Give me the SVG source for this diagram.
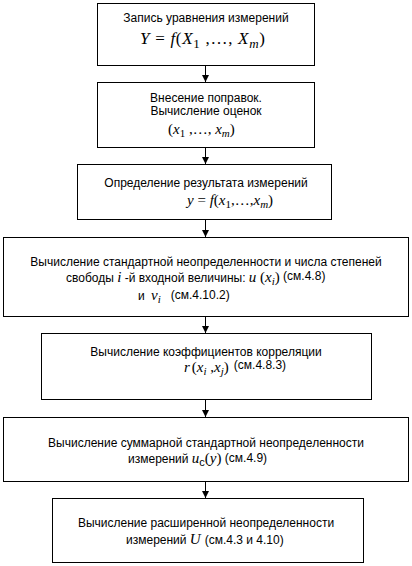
<svg xmlns="http://www.w3.org/2000/svg" width="412" height="566" viewBox="0 0 412 566">
<style>
.box{fill:#fff;stroke:#000;stroke-width:1}
.t{font-family:"Liberation Sans",Arial,sans-serif;font-size:12px;fill:#000;text-anchor:middle}
.l{font-family:"Liberation Sans",Arial,sans-serif;font-size:12px;fill:#000;text-anchor:start}
.m{font-family:"Liberation Serif","Times New Roman",serif;font-style:italic}
.mn{font-family:"Liberation Serif","Times New Roman",serif;font-style:normal}
.s{font-family:"Liberation Serif","Times New Roman",serif;font-style:normal;font-size:11px}
.si{font-family:"Liberation Serif","Times New Roman",serif;font-style:italic;font-size:11px}
.sa{font-family:"Liberation Sans",Arial,sans-serif;font-size:11px}
.r{font-family:"Liberation Sans",Arial,sans-serif;font-size:12px;font-style:normal}
.f17{font-size:17px}.f15{font-size:15px}.f14{font-size:14px}
.c{stroke:#000;stroke-width:1;fill:none;marker-end:url(#ah)}
</style>
<defs>
<marker id="ah" markerUnits="userSpaceOnUse" markerWidth="10" markerHeight="8" refX="7" refY="3.5" orient="auto">
<path d="M0,0 L7,3.5 L0,7 Z" fill="#000"/>
</marker>
</defs>
<rect width="412" height="566" fill="#fff"/>
<g id="connectors">
<line class="c" x1="205.5" y1="66" x2="205.5" y2="82"/>
<line class="c" x1="205.5" y1="148" x2="205.5" y2="164"/>
<line class="c" x1="205.5" y1="220" x2="205.5" y2="237"/>
<line class="c" x1="205.5" y1="317" x2="205.5" y2="333"/>
<line class="c" x1="205.5" y1="400" x2="205.5" y2="417"/>
<line class="c" x1="205.5" y1="482" x2="205.5" y2="498"/>
</g>
<g id="n1">
<rect class="box" x="97.5" y="3.5" width="217" height="62"/>
<text class="t" x="206" y="22">Запись уравнения измерений</text>
<text class="l f17" x="140" y="44" textLength="125" lengthAdjust="spacing"><tspan class="m">Y</tspan><tspan class="mn"> = </tspan><tspan class="m">f</tspan><tspan class="mn">(</tspan><tspan class="m">X</tspan><tspan class="s" dy="4" style="font-size:13px">1</tspan><tspan class="mn" dy="-4"> ,…, </tspan><tspan class="m">X</tspan><tspan class="si" dy="4" style="font-size:13px">m</tspan><tspan class="mn" dy="-4">)</tspan></text>
</g>
<g id="n2">
<rect class="box" x="97.5" y="82.5" width="217" height="65"/>
<text class="t" x="206" y="102">Внесение поправок.</text>
<text class="t" x="206" y="115">Вычисление оценок</text>
<text class="l f15" x="168" y="134"><tspan class="mn">(</tspan><tspan class="m">x</tspan><tspan class="s" dy="3">1</tspan><tspan class="mn" dy="-3"> ,…, </tspan><tspan class="m">x</tspan><tspan class="si" dy="3">m</tspan><tspan class="mn" dy="-3">)</tspan></text>
</g>
<g id="n3">
<rect class="box" x="77.5" y="164.5" width="254" height="55"/>
<text class="t" x="206" y="187">Определение результата измерений</text>
<text class="l f15" x="187" y="205"><tspan class="m">y</tspan><tspan class="mn"> = </tspan><tspan class="m">f</tspan><tspan class="mn">(</tspan><tspan class="m">x</tspan><tspan class="s" dy="3">1</tspan><tspan class="mn" dy="-3">,…,</tspan><tspan class="m">x</tspan><tspan class="si" dy="3">m</tspan><tspan class="mn" dy="-3">)</tspan></text>
</g>
<g id="n4">
<rect class="box" x="3.5" y="237.5" width="405" height="79"/>
<text class="t" x="206" y="266">Вычисление стандартной неопределенности и числа степеней</text>
<text class="l" x="66" y="282">свободы <tspan class="m f15">i</tspan> -й входной величины: <tspan class="m f15">u</tspan><tspan class="mn f15"> (</tspan><tspan class="m f15">x</tspan><tspan class="si" dy="3">i</tspan><tspan class="mn f15" dy="-3">)</tspan><tspan class="r" dy="-2"> (см.4.8)</tspan></text>
<text class="l" x="138" y="300">и <tspan class="m f15" dx="3">ν</tspan><tspan class="si" dy="3">i</tspan><tspan class="r" dy="-4" dx="10">(см.4.10.2)</tspan></text>
</g>
<g id="n5">
<rect class="box" x="41.5" y="333.5" width="330" height="66"/>
<text class="t" x="206" y="356">Вычисление коэффициентов корреляции</text>
<text class="l" x="184" y="372"><tspan class="m f15">r</tspan><tspan class="mn f15" dx="2">(</tspan><tspan class="m f15">x</tspan><tspan class="si" dy="3">i</tspan><tspan class="mn f15" dy="-3"> ,</tspan><tspan class="m f15">x</tspan><tspan class="si" dy="3">j</tspan><tspan class="mn f15" dy="-3">)</tspan><tspan class="r" dy="-3" dx="5">(см.4.8.3)</tspan></text>
</g>
<g id="n6">
<rect class="box" x="3.5" y="417.5" width="405" height="64"/>
<text class="t" x="206" y="447">Вычисление суммарной стандартной неопределенности</text>
<text class="l" x="128" y="463">измерений <tspan class="m f15">u</tspan><tspan class="sa" dy="3">c</tspan><tspan class="mn f15" dy="-3">(</tspan><tspan class="m f15">y</tspan><tspan class="mn f15">)</tspan><tspan class="r" dy="-1"> (см.4.9)</tspan></text>
</g>
<g id="n7">
<rect class="box" x="52.5" y="498.5" width="311" height="64"/>
<text class="t" x="206" y="527">Вычисление расширенной неопределенности</text>
<text class="l" x="126" y="544">измерений <tspan class="m f15">U</tspan><tspan dx="4">(см.4.3 и 4.10)</tspan></text>
</g>
</svg>
